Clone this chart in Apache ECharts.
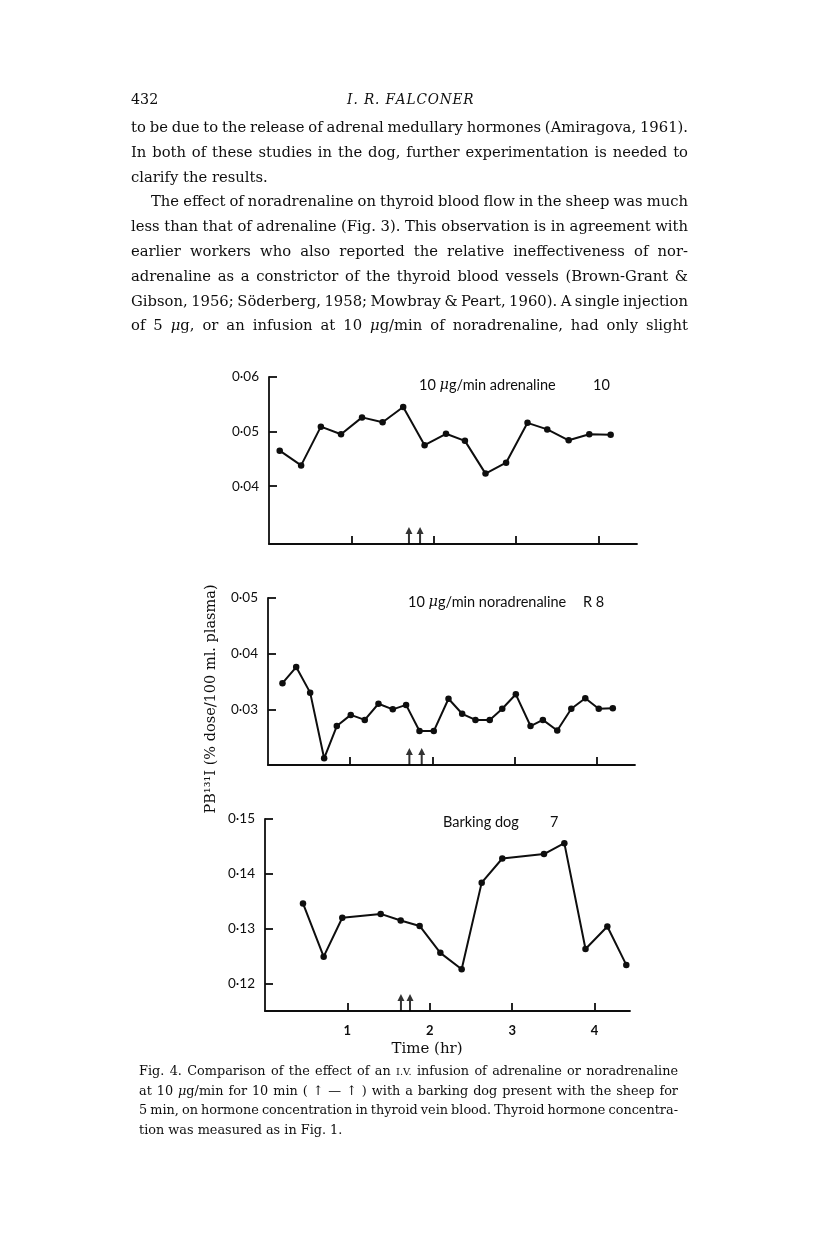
<!DOCTYPE html>
<html><head><meta charset="utf-8">
<script src="https://cdn.jsdelivr.net/npm/echarts@6/dist/echarts.min.js"></script>
<style>html,body{margin:0;padding:0;background:#fff}#c{width:816px;height:1249px}</style>
</head><body><div id="c"></div>
<script>
// ---------- data ----------
const adrTime  = [0.13,0.39,0.63,0.875,1.13,1.38,1.63,1.89,2.15,2.38,2.63,2.88,3.14,3.38,3.64,3.89,4.15];
const adrValue = [0.0465,0.0438,0.0509,0.0495,0.0526,0.0517,0.0545,0.0475,0.0496,0.0483,0.0423,0.0443,0.0516,0.0504,0.0484,0.0495,0.0494];
const noradTime  = [0.176,0.343,0.513,0.683,0.837,1.007,1.177,1.344,1.518,1.68,1.843,2.017,2.196,2.362,2.524,2.698,2.85,3.015,3.194,3.344,3.519,3.69,3.86,4.024,4.195];
const noradValue = [0.0347,0.0376,0.0330,0.0212,0.0270,0.0290,0.0281,0.0310,0.0300,0.0308,0.0261,0.0261,0.0319,0.0292,0.0281,0.0281,0.0301,0.0327,0.0270,0.0281,0.0262,0.0301,0.0320,0.0301,0.0302];
const dogTime  = [0.461,0.712,0.938,1.404,1.647,1.877,2.128,2.387,2.63,2.88,3.386,3.633,3.89,4.155,4.385];
const dogValue = [0.1346,0.1249,0.1320,0.1327,0.1315,0.1305,0.1256,0.1226,0.1384,0.1428,0.1436,0.1456,0.1263,0.1304,0.1234];
const hourTicks = [1,2,3,4];
const hourLabels = ['1','2','3','4'];
const adrYTicks = [0.04,0.05,0.06];
const noradYTicks = [0.03,0.04,0.05];
const dogYTicks = [0.12,0.13,0.14,0.15];
const adrArrows = [1.70,1.835];
const noradArrows = [1.72,1.87];
const dogArrows = [1.65,1.76];
const panelTitles = ['10 {m|μ}g/min adrenaline','10 {m|μ}g/min noradrenaline','Barking dog'];
const panelIds = ['10','R 8','7'];
const yTitle = 'PB¹³¹I (% dose/100 ml. plasma)';
const xTitle = 'Time (hr)';
const pageNumber = '432';
const runningHead = 'I. R. FALCONER';
const bodyLines = [
 'to be due to the release of adrenal medullary hormones (Amiragova, 1961).',
 'In both of these studies in the dog, further experimentation is needed to',
 'clarify the results.',
 'The effect of noradrenaline on thyroid blood flow in the sheep was much',
 'less than that of adrenaline (Fig. 3). This observation is in agreement with',
 'earlier workers who also reported the relative ineffectiveness of nor-',
 'adrenaline as a constrictor of the thyroid blood vessels (Brown-Grant &',
 'Gibson, 1956; Söderberg, 1958; Mowbray & Peart, 1960). A single injection',
 'of 5 {m|μ}g, or an infusion at 10 {m|μ}g/min of noradrenaline, had only slight'
];
const captionLines = [
 'Fig. 4. Comparison of the effect of an {sc|I.V.} infusion of adrenaline or noradrenaline',
 'at 10 {m|μ}g/min for 10 min ( ↑ — ↑ ) with a barking dog present with the sheep for',
 '5 min, on hormone concentration in thyroid vein blood. Thyroid hormone concentra-',
 'tion was measured as in Fig. 1.'
];

// ---------- helpers ----------
const INK = '#0e0e0e';
const SERIF = 'DejaVu Serif';
const SANS = 'Lato';
const SC = 0.78;
const ctx = document.createElement('canvas').getContext('2d');
const els = [];
function richFor(size, family){
  return {
    m: {fontStyle:'italic', fontSize:size, fontFamily:family, fill:INK},
    sc:{fontSize:Math.round(size*SC), fontFamily:family, fill:INK}
  };
}
function measureWord(w, size){
  let width = 0;
  const re = /\{([a-z]+)\|([^}]*)\}|([^{]+)/g; let m;
  while ((m = re.exec(w))){
    if (m[3]){ ctx.font = size + 'px "' + SERIF + '"'; width += ctx.measureText(m[3]).width; }
    else if (m[1]==='sc'){ ctx.font = Math.round(size*SC) + 'px "' + SERIF + '"'; width += ctx.measureText(m[2]).width; }
    else { ctx.font = 'italic ' + size + 'px "' + SERIF + '"'; width += ctx.measureText(m[2]).width; }
  }
  return width;
}
function measureLine(str, size){
  const words = str.split(' ');
  const ws = words.map(w => measureWord(w, size));
  ctx.font = size + 'px "' + SERIF + '"';
  const sp = ctx.measureText(' ').width;
  return {words, ws, sp, sum: ws.reduce((a,b)=>a+b,0)};
}
// paragraph block: uniform horizontal scale so that every justified line fits with a minimum word gap
function addBlock(lines, size, starts, x1, y0, dy, justifyFlags, minGapRatio){
  const ms = lines.map(l => measureLine(l, size));
  let scale = 1;
  ms.forEach((m,i)=>{
    if (!justifyFlags[i]) return;
    const s = (x1 - starts[i]) / (m.sum + m.sp*minGapRatio*(m.words.length-1));
    if (s < scale) scale = s;
  });
  ms.forEach((m,i)=>{
    const y = y0 + dy*i;
    let gap = m.sp*scale;
    if (justifyFlags[i] && m.words.length > 1) gap = (x1 - starts[i] - m.sum*scale)/(m.words.length-1);
    let x = starts[i];
    m.words.forEach((w,k)=>{
      els.push({type:'text', x:x, y:y, scaleX:scale, silent:true,
        style:{text:w, fontSize:size, fontFamily:SERIF, fill:INK,
               textVerticalAlign:'middle', verticalAlign:'middle', rich:richFor(size,SERIF)}});
      x += m.ws[k]*scale + gap;
    });
  });
}

// running head
els.push({type:'text', x:131, y:100, scaleX:0.92, silent:true,
  style:{text:pageNumber, fontSize:15.5, fontFamily:SERIF, fill:INK, textVerticalAlign:'middle', verticalAlign:'middle'}});
(function(){
  const size = 15.5; ctx.font = 'italic ' + size + 'px "' + SERIF + '"';
  const parts = runningHead.split(' ');
  const ls = 1.6, wsp = 6;
  let items = [], x = 0;
  parts.forEach((p)=>{
    for (const ch of p){ items.push([ch,x]); x += ctx.measureText(ch).width + ls; }
    x += wsp;
  });
  const total = x - wsp - ls;
  const sc = 126/total;
  const start = 410 - 63;
  items.forEach(([ch,cx])=> els.push({type:'text', x:start+cx*sc, y:100, scaleX:Math.min(1,sc*1.05), silent:true,
    style:{text:ch, fontSize:size, fontStyle:'italic', fontFamily:SERIF, fill:INK, textVerticalAlign:'middle', verticalAlign:'middle'}}));
})();

// body
addBlock(bodyLines, 15.5, bodyLines.map((l,i)=> i===3 ? 151 : 131), 688, 128, 24.8,
         bodyLines.map((l,i)=> i!==2), 0.75);
// caption
addBlock(captionLines, 13, captionLines.map(()=>139), 678, 1072, 19.5,
         captionLines.map((l,i)=> i!==3), 0.75);

// chart annotations
const annPos = [[419,385,593],[408,602,583],[443,822,550]];
annPos.forEach((p,i)=>{
  els.push({type:'text', x:p[0], y:p[1], silent:true,
    style:{text:panelTitles[i], fontSize:14.5, fontFamily:SANS, fill:INK, textVerticalAlign:'middle', verticalAlign:'middle',
      rich:{m:{fontStyle:'italic', fontSize:14.5, fontFamily:'DejaVu Serif', fill:INK}}}});
  els.push({type:'text', x:p[2], y:p[1], silent:true,
    style:{text:panelIds[i], fontSize:14.5, fontFamily:SANS, fill:INK, textVerticalAlign:'middle', verticalAlign:'middle'}});
});
els.push({type:'text', x:211, y:699, rotation:Math.PI/2, silent:true,
  style:{text:yTitle, fontSize:14.5, fontFamily:SERIF, fill:INK, textAlign:'center', align:'center', textVerticalAlign:'middle', verticalAlign:'middle'}});
els.push({type:'text', x:427, y:1049, silent:true,
  style:{text:xTitle, fontSize:15, fontFamily:SERIF, fill:INK, textAlign:'center', align:'center', textVerticalAlign:'middle', verticalAlign:'middle'}});

// ---------- chart ----------
const grids = [
  {left:269, top:377, width:368, height:167},
  {left:268, top:598, width:367, height:167},
  {left:265, top:819, width:365, height:192}
];
const yRanges = [[0.0294,0.06],[0.02,0.05],[0.115,0.15]];
const xMax = [4.47,4.465,4.43];
const yTicks = [adrYTicks, noradYTicks, dogYTicks];
const series = [[adrTime,adrValue],[noradTime,noradValue],[dogTime,dogValue]];
const arrows = [adrArrows, noradArrows, dogArrows];
const fmt = v => v.toFixed(2).replace('.', '·');
const axisLineStyle = {color:INK, width:1.8};

const option = {
  animation:false,
  backgroundColor:'#fff',
  grid: grids.map(g => Object.assign({containLabel:false}, g)),
  xAxis: grids.map((g,i)=>({
    type:'value', gridIndex:i, min:0, max:xMax[i],
    axisLine:{show:true, onZero:false, lineStyle:axisLineStyle},
    axisTick:{show:true, inside:true, length:8, customValues:hourTicks, lineStyle:{color:INK, width:1.8}},
    axisLabel:{show:i===2, customValues:hourTicks, margin:13, fontFamily:SANS, fontSize:13, fontWeight:'bold', color:INK,
      formatter:v => hourLabels[hourTicks.indexOf(v)] || ''},
    splitLine:{show:false}
  })),
  yAxis: grids.map((g,i)=>({
    type:'value', gridIndex:i, min:yRanges[i][0], max:yRanges[i][1],
    axisLine:{show:true, onZero:false, lineStyle:axisLineStyle},
    axisTick:{show:true, inside:true, length:8, customValues:yTicks[i], lineStyle:{color:INK, width:1.8}},
    axisLabel:{show:true, customValues:yTicks[i], margin:10, fontFamily:SANS, fontSize:13.5, color:INK, formatter:fmt},
    splitLine:{show:false}
  })),
  series: [].concat(
    series.map((s,i)=>({
      type:'line', xAxisIndex:i, yAxisIndex:i,
      data:s[0].map((t,k)=>[t, s[1][k]]),
      symbol:'circle', symbolSize:6.5, showAllSymbol:true,
      lineStyle:{color:INK, width:2}, itemStyle:{color:INK}, silent:true
    })),
    arrows.map((a,i)=>({
      type:'scatter', xAxisIndex:i, yAxisIndex:i,
      data:a.map(t=>[t, yRanges[i][0]]),
      symbol:'path://M4 0L7.5 7L5 7L5 17L3 17L3 7L0.5 7Z',
      symbolSize:[7,17], symbolKeepAspect:false, symbolOffset:[0,-8.5],
      itemStyle:{color:'#000'}, silent:true, clip:false
    }))
  ),
  graphic: els
};
const chart = echarts.init(document.getElementById('c'), null, {renderer:'canvas'});
chart.setOption(option);
</script>
</body></html>
